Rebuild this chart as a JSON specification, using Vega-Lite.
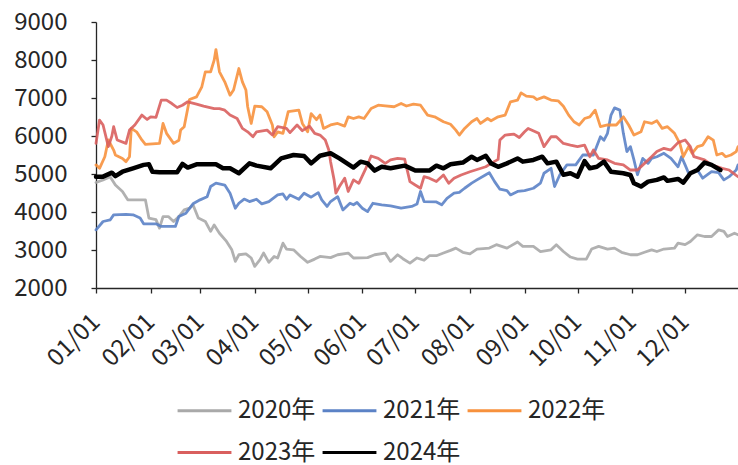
{
  "$schema": "https://vega.github.io/schema/vega-lite/v6.json",
  "autosize": {"type": "none"},
  "padding": {"left": 96, "top": 22, "right": 0, "bottom": 177},
  "width": 642,
  "height": 266,
  "background": "white",
  "config": {
    "font": "Noto Sans CJK SC",
    "view": {"stroke": null},
    "axis": {"grid": false, "domainColor": "#262626", "tickColor": "#262626", "labelColor": "#262626", "labelFontSize": 24, "labelFont": "Noto Sans CJK SC", "tickSize": 5, "domainWidth": 1.3, "tickWidth": 1.3}
  },
  "data": {
    "format": {"parse": {"d": "utc:'%j'"}},
    "values": [
      {"s":"2020年","d":1,"v":4775},{"s":"2020年","d":5,"v":4845},{"s":"2020年","d":9,"v":4930},{"s":"2020年","d":12,"v":4710},{"s":"2020年","d":16,"v":4540},{"s":"2020年","d":19,"v":4320},{"s":"2020年","d":29,"v":4320},{"s":"2020年","d":31,"v":3840},{"s":"2020年","d":35,"v":3800},{"s":"2020年","d":37,"v":3575},{"s":"2020年","d":39,"v":3880},{"s":"2020年","d":42,"v":3880},{"s":"2020年","d":45,"v":3750},{"s":"2020年","d":48,"v":3880},{"s":"2020年","d":51,"v":4055},{"s":"2020年","d":54,"v":4100},{"s":"2020年","d":56,"v":4190},{"s":"2020年","d":59,"v":3840},{"s":"2020年","d":63,"v":3750},{"s":"2020年","d":66,"v":3490},{"s":"2020年","d":68,"v":3660},{"s":"2020年","d":71,"v":3440},{"s":"2020年","d":75,"v":3225},{"s":"2020年","d":78,"v":3005},{"s":"2020年","d":80,"v":2700},{"s":"2020年","d":82,"v":2875},{"s":"2020年","d":86,"v":2900},{"s":"2020年","d":89,"v":2790},{"s":"2020年","d":91,"v":2570},{"s":"2020年","d":94,"v":2745},{"s":"2020年","d":96,"v":2920},{"s":"2020年","d":99,"v":2675},{"s":"2020年","d":102,"v":2830},{"s":"2020年","d":104,"v":2790},{"s":"2020年","d":107,"v":3180},{"s":"2020年","d":109,"v":3025},{"s":"2020年","d":113,"v":3005},{"s":"2020年","d":117,"v":2830},{"s":"2020年","d":121,"v":2675},{"s":"2020年","d":125,"v":2760},{"s":"2020年","d":128,"v":2830},{"s":"2020年","d":134,"v":2800},{"s":"2020年","d":138,"v":2875},{"s":"2020年","d":144,"v":2920},{"s":"2020年","d":147,"v":2790},{"s":"2020年","d":155,"v":2800},{"s":"2020年","d":159,"v":2875},{"s":"2020年","d":165,"v":2920},{"s":"2020年","d":168,"v":2700},{"s":"2020年","d":172,"v":2875},{"s":"2020年","d":175,"v":2770},{"s":"2020年","d":179,"v":2655},{"s":"2020年","d":183,"v":2790},{"s":"2020年","d":187,"v":2730},{"s":"2020年","d":190,"v":2850},{"s":"2020年","d":194,"v":2850},{"s":"2020年","d":198,"v":2920},{"s":"2020年","d":202,"v":2990},{"s":"2020年","d":205,"v":3050},{"s":"2020年","d":209,"v":2940},{"s":"2020年","d":213,"v":2900},{"s":"2020年","d":217,"v":3025},{"s":"2020年","d":224,"v":3050},{"s":"2020年","d":228,"v":3140},{"s":"2020年","d":234,"v":3050},{"s":"2020年","d":240,"v":3210},{"s":"2020年","d":243,"v":3095},{"s":"2020年","d":249,"v":3095},{"s":"2020年","d":253,"v":2960},{"s":"2020年","d":259,"v":3005},{"s":"2020年","d":262,"v":3140},{"s":"2020年","d":266,"v":2960},{"s":"2020年","d":270,"v":2815},{"s":"2020年","d":274,"v":2760},{"s":"2020年","d":279,"v":2760},{"s":"2020年","d":282,"v":3025},{"s":"2020年","d":286,"v":3095},{"s":"2020年","d":291,"v":3025},{"s":"2020年","d":295,"v":3050},{"s":"2020年","d":299,"v":2940},{"s":"2020年","d":304,"v":2875},{"s":"2020年","d":308,"v":2875},{"s":"2020年","d":312,"v":2940},{"s":"2020年","d":316,"v":3005},{"s":"2020年","d":319,"v":2960},{"s":"2020年","d":323,"v":3025},{"s":"2020年","d":329,"v":3050},{"s":"2020年","d":331,"v":3180},{"s":"2020年","d":335,"v":3140},{"s":"2020年","d":338,"v":3225},{"s":"2020年","d":342,"v":3400},{"s":"2020年","d":346,"v":3355},{"s":"2020年","d":350,"v":3355},{"s":"2020年","d":354,"v":3530},{"s":"2020年","d":357,"v":3490},{"s":"2020年","d":359,"v":3355},{"s":"2020年","d":363,"v":3440},{"s":"2020年","d":365,"v":3400},

      {"s":"2021年","d":1,"v":3530},{"s":"2021年","d":5,"v":3750},{"s":"2021年","d":9,"v":3790},{"s":"2021年","d":11,"v":3925},{"s":"2021年","d":18,"v":3940},{"s":"2021年","d":22,"v":3925},{"s":"2021年","d":26,"v":3840},{"s":"2021年","d":28,"v":3690},{"s":"2021年","d":35,"v":3690},{"s":"2021年","d":38,"v":3620},{"s":"2021年","d":46,"v":3620},{"s":"2021年","d":48,"v":3880},{"s":"2021年","d":52,"v":3970},{"s":"2021年","d":56,"v":4215},{"s":"2021年","d":60,"v":4320},{"s":"2021年","d":64,"v":4400},{"s":"2021年","d":66,"v":4670},{"s":"2021年","d":69,"v":4760},{"s":"2021年","d":74,"v":4710},{"s":"2021年","d":77,"v":4495},{"s":"2021年","d":80,"v":4100},{"s":"2021年","d":82,"v":4230},{"s":"2021年","d":85,"v":4340},{"s":"2021年","d":88,"v":4275},{"s":"2021年","d":92,"v":4335},{"s":"2021年","d":95,"v":4215},{"s":"2021年","d":99,"v":4275},{"s":"2021年","d":104,"v":4450},{"s":"2021年","d":107,"v":4475},{"s":"2021年","d":109,"v":4335},{"s":"2021年","d":111,"v":4450},{"s":"2021年","d":116,"v":4335},{"s":"2021年","d":119,"v":4495},{"s":"2021年","d":123,"v":4390},{"s":"2021年","d":127,"v":4510},{"s":"2021年","d":129,"v":4320},{"s":"2021年","d":132,"v":4145},{"s":"2021年","d":134,"v":4275},{"s":"2021年","d":138,"v":4405},{"s":"2021年","d":141,"v":4055},{"s":"2021年","d":145,"v":4230},{"s":"2021年","d":147,"v":4190},{"s":"2021年","d":149,"v":4250},{"s":"2021年","d":152,"v":4100},{"s":"2021年","d":155,"v":4010},{"s":"2021年","d":158,"v":4230},{"s":"2021年","d":163,"v":4190},{"s":"2021年","d":168,"v":4160},{"s":"2021年","d":174,"v":4100},{"s":"2021年","d":180,"v":4145},{"s":"2021年","d":183,"v":4210},{"s":"2021年","d":185,"v":4540},{"s":"2021年","d":187,"v":4275},{"s":"2021年","d":194,"v":4265},{"s":"2021年","d":197,"v":4190},{"s":"2021年","d":200,"v":4360},{"s":"2021年","d":204,"v":4495},{"s":"2021年","d":207,"v":4515},{"s":"2021年","d":210,"v":4625},{"s":"2021年","d":214,"v":4760},{"s":"2021年","d":217,"v":4845},{"s":"2021年","d":222,"v":4980},{"s":"2021年","d":224,"v":5035},{"s":"2021年","d":227,"v":4800},{"s":"2021年","d":230,"v":4600},{"s":"2021年","d":234,"v":4565},{"s":"2021年","d":236,"v":4450},{"s":"2021年","d":240,"v":4540},{"s":"2021年","d":244,"v":4565},{"s":"2021年","d":249,"v":4625},{"s":"2021年","d":253,"v":4760},{"s":"2021年","d":255,"v":5020},{"s":"2021年","d":259,"v":5150},{"s":"2021年","d":261,"v":4670},{"s":"2021年","d":264,"v":4980},{"s":"2021年","d":268,"v":5240},{"s":"2021年","d":273,"v":5240},{"s":"2021年","d":277,"v":5500},{"s":"2021年","d":283,"v":5500},{"s":"2021年","d":287,"v":5980},{"s":"2021年","d":289,"v":5890},{"s":"2021年","d":291,"v":6070},{"s":"2021年","d":293,"v":6550},{"s":"2021年","d":295,"v":6740},{"s":"2021年","d":298,"v":6680},{"s":"2021年","d":300,"v":6070},{"s":"2021年","d":302,"v":5590},{"s":"2021年","d":304,"v":5720},{"s":"2021年","d":306,"v":5370},{"s":"2021年","d":308,"v":4980},{"s":"2021年","d":311,"v":5410},{"s":"2021年","d":314,"v":5280},{"s":"2021年","d":316,"v":5410},{"s":"2021年","d":319,"v":5455},{"s":"2021年","d":323,"v":5545},{"s":"2021年","d":327,"v":5410},{"s":"2021年","d":331,"v":5190},{"s":"2021年","d":333,"v":5455},{"s":"2021年","d":335,"v":5240},{"s":"2021年","d":337,"v":5020},{"s":"2021年","d":340,"v":5060},{"s":"2021年","d":342,"v":5105},{"s":"2021年","d":345,"v":4890},{"s":"2021年","d":350,"v":5060},{"s":"2021年","d":354,"v":5035},{"s":"2021年","d":357,"v":4845},{"s":"2021年","d":360,"v":4930},{"s":"2021年","d":364,"v":5105},{"s":"2021年","d":365,"v":5240},

      {"s":"2022年","d":1,"v":5240},{"s":"2022年","d":3,"v":5150},{"s":"2022年","d":6,"v":5455},{"s":"2022年","d":8,"v":5895},{"s":"2022年","d":11,"v":5630},{"s":"2022年","d":12,"v":5500},{"s":"2022年","d":16,"v":5410},{"s":"2022年","d":18,"v":5325},{"s":"2022年","d":20,"v":5455},{"s":"2022年","d":21,"v":6200},{"s":"2022年","d":24,"v":6110},{"s":"2022年","d":27,"v":5895},{"s":"2022年","d":29,"v":5780},{"s":"2022年","d":37,"v":5805},{"s":"2022年","d":39,"v":6330},{"s":"2022年","d":41,"v":6070},{"s":"2022年","d":45,"v":5805},{"s":"2022年","d":48,"v":5890},{"s":"2022年","d":49,"v":6155},{"s":"2022年","d":51,"v":6245},{"s":"2022年","d":54,"v":6960},{"s":"2022年","d":58,"v":7030},{"s":"2022年","d":61,"v":7295},{"s":"2022年","d":63,"v":7690},{"s":"2022年","d":66,"v":7690},{"s":"2022年","d":68,"v":7995},{"s":"2022年","d":69,"v":8275},{"s":"2022年","d":71,"v":7690},{"s":"2022年","d":74,"v":7425},{"s":"2022年","d":77,"v":7075},{"s":"2022年","d":79,"v":7210},{"s":"2022年","d":82,"v":7775},{"s":"2022年","d":84,"v":7425},{"s":"2022年","d":86,"v":7210},{"s":"2022年","d":87,"v":6770},{"s":"2022年","d":89,"v":6330},{"s":"2022年","d":91,"v":6785},{"s":"2022年","d":95,"v":6770},{"s":"2022年","d":98,"v":6640},{"s":"2022年","d":101,"v":6290},{"s":"2022年","d":102,"v":5980},{"s":"2022年","d":104,"v":6110},{"s":"2022年","d":107,"v":6070},{"s":"2022年","d":110,"v":6640},{"s":"2022年","d":116,"v":6680},{"s":"2022年","d":118,"v":6330},{"s":"2022年","d":121,"v":6110},{"s":"2022年","d":123,"v":6590},{"s":"2022年","d":126,"v":6430},{"s":"2022年","d":128,"v":6550},{"s":"2022年","d":130,"v":6200},{"s":"2022年","d":134,"v":6290},{"s":"2022年","d":138,"v":6330},{"s":"2022年","d":142,"v":6260},{"s":"2022年","d":144,"v":6505},{"s":"2022年","d":147,"v":6460},{"s":"2022年","d":150,"v":6505},{"s":"2022年","d":153,"v":6460},{"s":"2022年","d":157,"v":6725},{"s":"2022年","d":161,"v":6810},{"s":"2022年","d":165,"v":6790},{"s":"2022年","d":170,"v":6770},{"s":"2022年","d":174,"v":6855},{"s":"2022年","d":177,"v":6790},{"s":"2022年","d":181,"v":6840},{"s":"2022年","d":185,"v":6810},{"s":"2022年","d":189,"v":6550},{"s":"2022年","d":193,"v":6505},{"s":"2022年","d":198,"v":6375},{"s":"2022年","d":202,"v":6310},{"s":"2022年","d":205,"v":6155},{"s":"2022年","d":207,"v":6025},{"s":"2022年","d":210,"v":6200},{"s":"2022年","d":214,"v":6375},{"s":"2022年","d":217,"v":6460},{"s":"2022年","d":219,"v":6330},{"s":"2022年","d":223,"v":6460},{"s":"2022年","d":225,"v":6400},{"s":"2022年","d":229,"v":6505},{"s":"2022年","d":233,"v":6550},{"s":"2022年","d":236,"v":6900},{"s":"2022年","d":240,"v":6945},{"s":"2022年","d":242,"v":7135},{"s":"2022年","d":245,"v":7050},{"s":"2022年","d":249,"v":7030},{"s":"2022年","d":251,"v":6960},{"s":"2022年","d":255,"v":7030},{"s":"2022年","d":259,"v":6945},{"s":"2022年","d":263,"v":6925},{"s":"2022年","d":266,"v":6785},{"s":"2022年","d":269,"v":6550},{"s":"2022年","d":272,"v":6375},{"s":"2022年","d":275,"v":6290},{"s":"2022年","d":278,"v":6460},{"s":"2022年","d":281,"v":6505},{"s":"2022年","d":284,"v":6680},{"s":"2022年","d":287,"v":6245},{"s":"2022年","d":291,"v":6290},{"s":"2022年","d":296,"v":6290},{"s":"2022年","d":300,"v":6505},{"s":"2022年","d":303,"v":6290},{"s":"2022年","d":306,"v":6025},{"s":"2022年","d":310,"v":6110},{"s":"2022年","d":312,"v":6375},{"s":"2022年","d":316,"v":6330},{"s":"2022年","d":319,"v":6400},{"s":"2022年","d":322,"v":6200},{"s":"2022年","d":325,"v":6245},{"s":"2022年","d":329,"v":6070},{"s":"2022年","d":332,"v":5805},{"s":"2022年","d":334,"v":5455},{"s":"2022年","d":337,"v":5720},{"s":"2022年","d":339,"v":5545},{"s":"2022年","d":342,"v":5720},{"s":"2022年","d":345,"v":5760},{"s":"2022年","d":348,"v":5980},{"s":"2022年","d":351,"v":5890},{"s":"2022年","d":353,"v":5500},{"s":"2022年","d":356,"v":5545},{"s":"2022年","d":358,"v":5455},{"s":"2022年","d":361,"v":5500},{"s":"2022年","d":364,"v":5590},{"s":"2022年","d":365,"v":5720},

      {"s":"2023年","d":1,"v":5805},{"s":"2023年","d":3,"v":6420},{"s":"2023年","d":5,"v":6290},{"s":"2023年","d":8,"v":5720},{"s":"2023年","d":10,"v":6000},{"s":"2023年","d":11,"v":6245},{"s":"2023年","d":13,"v":5895},{"s":"2023年","d":18,"v":5805},{"s":"2023年","d":20,"v":6155},{"s":"2023年","d":23,"v":6290},{"s":"2023年","d":27,"v":6550},{"s":"2023年","d":30,"v":6435},{"s":"2023年","d":32,"v":6505},{"s":"2023年","d":35,"v":6490},{"s":"2023年","d":38,"v":6945},{"s":"2023年","d":41,"v":6945},{"s":"2023年","d":44,"v":6855},{"s":"2023年","d":47,"v":6750},{"s":"2023年","d":50,"v":6810},{"s":"2023年","d":53,"v":6900},{"s":"2023年","d":58,"v":6840},{"s":"2023年","d":62,"v":6785},{"s":"2023年","d":68,"v":6720},{"s":"2023年","d":71,"v":6720},{"s":"2023年","d":74,"v":6680},{"s":"2023年","d":77,"v":6550},{"s":"2023年","d":81,"v":6460},{"s":"2023年","d":84,"v":6200},{"s":"2023年","d":87,"v":6110},{"s":"2023年","d":90,"v":5980},{"s":"2023年","d":92,"v":6110},{"s":"2023年","d":98,"v":6155},{"s":"2023年","d":101,"v":6025},{"s":"2023年","d":104,"v":6245},{"s":"2023年","d":109,"v":6200},{"s":"2023年","d":111,"v":6090},{"s":"2023年","d":115,"v":6290},{"s":"2023年","d":118,"v":6140},{"s":"2023年","d":122,"v":6260},{"s":"2023年","d":125,"v":6070},{"s":"2023年","d":128,"v":6025},{"s":"2023年","d":131,"v":5895},{"s":"2023年","d":133,"v":5630},{"s":"2023年","d":134,"v":5325},{"s":"2023年","d":136,"v":4845},{"s":"2023年","d":137,"v":4495},{"s":"2023年","d":139,"v":4670},{"s":"2023年","d":142,"v":4890},{"s":"2023年","d":144,"v":4540},{"s":"2023年","d":147,"v":4845},{"s":"2023年","d":150,"v":4755},{"s":"2023年","d":154,"v":5150},{"s":"2023年","d":157,"v":5475},{"s":"2023年","d":161,"v":5410},{"s":"2023年","d":165,"v":5280},{"s":"2023年","d":168,"v":5370},{"s":"2023年","d":172,"v":5410},{"s":"2023年","d":176,"v":5390},{"s":"2023年","d":179,"v":4800},{"s":"2023年","d":182,"v":4710},{"s":"2023年","d":185,"v":4625},{"s":"2023年","d":187,"v":4930},{"s":"2023年","d":190,"v":4890},{"s":"2023年","d":194,"v":4800},{"s":"2023年","d":198,"v":4975},{"s":"2023年","d":201,"v":4755},{"s":"2023年","d":204,"v":4890},{"s":"2023年","d":208,"v":4975},{"s":"2023年","d":213,"v":5060},{"s":"2023年","d":222,"v":5190},{"s":"2023年","d":225,"v":5280},{"s":"2023年","d":229,"v":5385},{"s":"2023年","d":230,"v":5895},{"s":"2023年","d":233,"v":6025},{"s":"2023年","d":238,"v":6050},{"s":"2023年","d":241,"v":5960},{"s":"2023年","d":244,"v":6110},{"s":"2023年","d":246,"v":6200},{"s":"2023年","d":252,"v":6070},{"s":"2023年","d":255,"v":5720},{"s":"2023年","d":259,"v":5980},{"s":"2023年","d":262,"v":5980},{"s":"2023年","d":266,"v":5805},{"s":"2023年","d":270,"v":5760},{"s":"2023年","d":274,"v":5720},{"s":"2023年","d":278,"v":5760},{"s":"2023年","d":281,"v":5455},{"s":"2023年","d":283,"v":5630},{"s":"2023年","d":286,"v":5410},{"s":"2023年","d":291,"v":5370},{"s":"2023年","d":295,"v":5280},{"s":"2023年","d":300,"v":5240},{"s":"2023年","d":304,"v":5105},{"s":"2023年","d":308,"v":5105},{"s":"2023年","d":312,"v":5280},{"s":"2023年","d":316,"v":5455},{"s":"2023年","d":319,"v":5590},{"s":"2023年","d":323,"v":5675},{"s":"2023年","d":327,"v":5630},{"s":"2023年","d":331,"v":5825},{"s":"2023年","d":335,"v":5895},{"s":"2023年","d":338,"v":5720},{"s":"2023年","d":340,"v":5455},{"s":"2023年","d":346,"v":5370},{"s":"2023年","d":350,"v":5240},{"s":"2023年","d":356,"v":5150},{"s":"2023年","d":360,"v":5105},{"s":"2023年","d":365,"v":4930},

      {"s":"2024年","d":1,"v":4930},{"s":"2024年","d":5,"v":4930},{"s":"2024年","d":10,"v":5035},{"s":"2024年","d":12,"v":4945},{"s":"2024年","d":16,"v":5060},{"s":"2024年","d":22,"v":5150},{"s":"2024年","d":28,"v":5240},{"s":"2024年","d":31,"v":5255},{"s":"2024年","d":33,"v":5060},{"s":"2024年","d":37,"v":5045},{"s":"2024年","d":47,"v":5045},{"s":"2024年","d":50,"v":5265},{"s":"2024年","d":53,"v":5170},{"s":"2024年","d":58,"v":5255},{"s":"2024年","d":69,"v":5255},{"s":"2024年","d":73,"v":5150},{"s":"2024年","d":77,"v":5150},{"s":"2024年","d":82,"v":5020},{"s":"2024年","d":88,"v":5280},{"s":"2024年","d":92,"v":5220},{"s":"2024年","d":100,"v":5150},{"s":"2024年","d":106,"v":5410},{"s":"2024年","d":113,"v":5500},{"s":"2024年","d":119,"v":5475},{"s":"2024年","d":123,"v":5280},{"s":"2024年","d":128,"v":5480},{"s":"2024年","d":134,"v":5545},{"s":"2024年","d":139,"v":5410},{"s":"2024年","d":147,"v":5170},{"s":"2024年","d":151,"v":5325},{"s":"2024年","d":155,"v":5280},{"s":"2024年","d":159,"v":5090},{"s":"2024年","d":163,"v":5190},{"s":"2024年","d":168,"v":5150},{"s":"2024年","d":176,"v":5220},{"s":"2024年","d":182,"v":5090},{"s":"2024年","d":186,"v":5090},{"s":"2024年","d":190,"v":5090},{"s":"2024年","d":194,"v":5220},{"s":"2024年","d":198,"v":5150},{"s":"2024年","d":202,"v":5255},{"s":"2024年","d":209,"v":5300},{"s":"2024年","d":214,"v":5455},{"s":"2024年","d":217,"v":5370},{"s":"2024年","d":222,"v":5480},{"s":"2024年","d":225,"v":5280},{"s":"2024年","d":229,"v":5190},{"s":"2024年","d":234,"v":5280},{"s":"2024年","d":240,"v":5410},{"s":"2024年","d":243,"v":5325},{"s":"2024年","d":249,"v":5370},{"s":"2024年","d":254,"v":5455},{"s":"2024年","d":257,"v":5280},{"s":"2024年","d":262,"v":5325},{"s":"2024年","d":266,"v":4980},{"s":"2024年","d":270,"v":5020},{"s":"2024年","d":274,"v":4930},{"s":"2024年","d":278,"v":5340},{"s":"2024年","d":281,"v":5150},{"s":"2024年","d":285,"v":5190},{"s":"2024年","d":289,"v":5325},{"s":"2024年","d":293,"v":5060},{"s":"2024年","d":300,"v":5020},{"s":"2024年","d":304,"v":4975},{"s":"2024年","d":306,"v":4755},{"s":"2024年","d":310,"v":4670},{"s":"2024年","d":314,"v":4800},{"s":"2024年","d":319,"v":4845},{"s":"2024年","d":323,"v":4910},{"s":"2024年","d":325,"v":4820},{"s":"2024年","d":331,"v":4870},{"s":"2024年","d":334,"v":4775},{"s":"2024年","d":338,"v":5020},{"s":"2024年","d":342,"v":5105},{"s":"2024年","d":346,"v":5300},{"s":"2024年","d":350,"v":5240},{"s":"2024年","d":355,"v":5105}
    ]
  },
  "mark": {"type": "line", "interpolate": "linear", "strokeJoin": "round", "strokeCap": "round"},
  "encoding": {
    "x": {
      "field": "d",
      "type": "temporal",
      "title": null,
      "scale": {"type": "utc", "domain": [{"year": 1900, "month": 1, "date": 1, "utc": true}, {"year": 1900, "month": 12, "date": 31, "utc": true}]},
      "axis": {
        "labelExpr": "utcFormat(datum.value, '%m/%d')",
        "labelAngle": -45,
        "labelBaseline": "middle",
        "labelAlign": "right",
        "labelPadding": 25,
        "labelFlush": false,
        "labelOverlap": false,
        "values": [
          {"year": 1900, "month": 1, "date": 1, "utc": true},
          {"year": 1900, "month": 2, "date": 1, "utc": true},
          {"year": 1900, "month": 3, "date": 1, "utc": true},
          {"year": 1900, "month": 4, "date": 1, "utc": true},
          {"year": 1900, "month": 5, "date": 1, "utc": true},
          {"year": 1900, "month": 6, "date": 1, "utc": true},
          {"year": 1900, "month": 7, "date": 1, "utc": true},
          {"year": 1900, "month": 8, "date": 1, "utc": true},
          {"year": 1900, "month": 9, "date": 1, "utc": true},
          {"year": 1900, "month": 10, "date": 1, "utc": true},
          {"year": 1900, "month": 11, "date": 1, "utc": true},
          {"year": 1900, "month": 12, "date": 1, "utc": true}
        ]
      }
    },
    "y": {
      "field": "v",
      "type": "quantitative",
      "title": null,
      "scale": {"domain": [2000, 9000], "nice": false, "zero": false},
      "axis": {"values": [2000, 3000, 4000, 5000, 6000, 7000, 8000, 9000], "labelPadding": 24, "format": "d"}
    },
    "color": {
      "field": "s",
      "type": "nominal",
      "scale": {"domain": ["2020年", "2021年", "2022年", "2023年", "2024年"], "range": ["#A9A9A9", "#5B82C6", "#F7913D", "#D95F5E", "#000000"]},
      "legend": {
        "title": null,
        "orient": "none",
        "legendX": 80,
        "legendY": 360,
        "direction": "horizontal",
        "columns": 3,
        "symbolType": "stroke",
        "symbolSize": 2900,
        "symbolStrokeWidth": 3,
        "labelFontSize": 24,
        "labelColor": "#262626",
        "labelOffset": 5,
        "columnPadding": 0,
        "rowPadding": 1,
        "padding": 0,
        "encode": {"symbols": {"update": {"strokeWidth": [{"test": "datum.value === '2024年'", "value": 5}, {"value": 3}]}}}
      }
    },
    "strokeWidth": {"condition": {"test": "datum.s === '2024年'", "value": 4.5}, "value": 2.8},
    "opacity": {"condition": {"test": "datum.s === '2024年'", "value": 1}, "value": 0.9}
  }
}
